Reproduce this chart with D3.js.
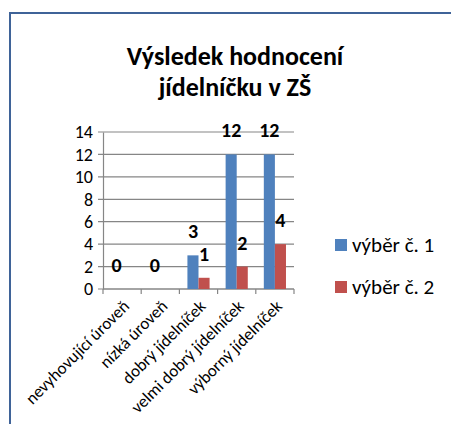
<!DOCTYPE html>
<html>
<head>
<meta charset="utf-8">
<script src="https://cdn.jsdelivr.net/npm/d3@7"></script>
<style>
  body { margin: 0; background: #fff; }
  text { font-family: Carlito, Lato, sans-serif; fill: #000; }
</style>
</head>
<body>
<div id="chart"></div>
<script>
// data
let categories = ['nevyhovující úroveň', 'nízká úroveň', 'dobrý jídelníček', 'velmi dobrý jídelníček', 'výborný jídelníček'];
let seriesNames = ['výběr č. 1', 'výběr č. 2'];
let serie1 = [0, 0, 3, 12, 12];
let serie2 = [null, null, 1, 2, 4];
let yTicks = [0, 2, 4, 6, 8, 10, 12, 14];
let colors = ['#4F81BD', '#C0504D'];

let width = 451, height = 424;

let svg = d3.select('#chart').append('svg')
    .attr('width', width)
    .attr('height', height);

// outer frame
svg.append('path')
    .attr('d', 'M10,' + (height + 5) + 'V13H' + (width + 5))
    .attr('fill', 'none')
    .attr('stroke', '#3F6398')
    .attr('stroke-width', 2);

// title
let title = svg.append('text')
    .attr('text-anchor', 'middle')
    .style('font-size', '26px')
    .style('font-weight', 'bold');
title.append('tspan').attr('x', 235).attr('y', 65).text('Výsledek hodnocení');
title.append('tspan').attr('x', 235).attr('y', 96).text('jídelníčku v ZŠ');

let x = d3.scaleBand()
    .domain(categories)
    .range([103, 294])
    .padding(0);

let y = d3.scaleLinear()
    .domain([0, 14])
    .range([289, 132]);

let x1 = d3.scaleBand()
    .domain([0, 1])
    .range([x.bandwidth() * 0.21, x.bandwidth() * 0.79]);

// gridlines
svg.append('g')
    .selectAll('line')
    .data(yTicks)
    .enter()
    .append('line')
    .attr('x1', 98)
    .attr('x2', 294)
    .attr('y1', d => y(d))
    .attr('y2', d => y(d))
    .attr('stroke', '#868686')
    .attr('stroke-width', 1.2);

// y axis
let yAxis = svg.append('g')
    .attr('transform', 'translate(103,0)')
    .call(d3.axisLeft(y).tickValues(yTicks).tickSize(0).tickPadding(10));
yAxis.select('.domain').attr('stroke', '#868686').attr('stroke-width', 1.2);
yAxis.selectAll('text')
    .style('font-size', '18px')
    .style('font-family', 'Carlito, Lato, sans-serif');

// x axis
let xAxis = svg.append('g')
    .attr('transform', 'translate(0,289)');
xAxis.append('line')
    .attr('x1', 103).attr('x2', 294)
    .attr('stroke', '#868686').attr('stroke-width', 1.2);
xAxis.selectAll('.tick')
    .data(categories.concat(['end']))
    .enter()
    .append('line')
    .attr('x1', (d, i) => 103 + i * x.step())
    .attr('x2', (d, i) => 103 + i * x.step())
    .attr('y1', 0).attr('y2', 5)
    .attr('stroke', '#868686').attr('stroke-width', 1.2);

xAxis.selectAll('.cat')
    .data(categories)
    .enter()
    .append('text')
    .attr('class', 'cat')
    .attr('text-anchor', 'end')
    .attr('dy', '0.35em')
    .attr('transform', d => 'translate(' + (x(d) + x.bandwidth() / 2 + 4) + ',14) rotate(-45)')
    .style('font-size', '17px')
    .text(d => d);

// bars + data labels
let series = [serie1, serie2];
series.forEach((vals, s) => {
    let rows = vals.map((v, i) => ({ v: v, c: categories[i] })).filter(d => d.v !== null);

    svg.append('g')
        .selectAll('rect')
        .data(rows)
        .enter()
        .append('rect')
        .attr('x', d => x(d.c) + x1(s))
        .attr('y', d => y(d.v))
        .attr('width', x1.bandwidth())
        .attr('height', d => y(0) - y(d.v))
        .attr('fill', colors[s]);

    svg.append('g')
        .selectAll('text')
        .data(rows)
        .enter()
        .append('text')
        .attr('x', d => x(d.c) + x1(s) + x1.bandwidth() / 2)
        .attr('y', d => y(d.v) - 24)
        .attr('dy', '0.35em')
        .attr('text-anchor', 'middle')
        .style('font-size', '20px')
        .style('font-weight', 'bold')
        .text(d => d.v);
});

// legend
let legend = svg.append('g')
    .selectAll('g')
    .data(seriesNames)
    .enter()
    .append('g')
    .attr('transform', (d, i) => 'translate(335,' + (245 + i * 42) + ')');
legend.append('rect')
    .attr('x', 0).attr('y', -6)
    .attr('width', 12).attr('height', 12)
    .attr('fill', (d, i) => colors[i]);
legend.append('text')
    .attr('x', 17)
    .attr('dy', '0.35em')
    .style('font-size', '21px')
    .text(d => d);
</script>
</body>
</html>
